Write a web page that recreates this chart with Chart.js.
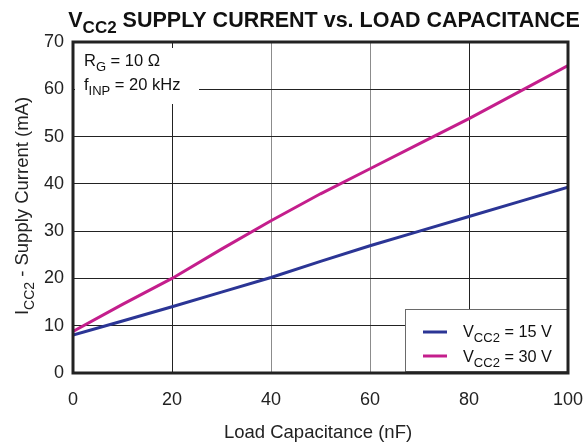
<!DOCTYPE html>
<html>
<head>
<meta charset="utf-8">
<script src="https://cdn.jsdelivr.net/npm/chart.js@4.4.1/dist/chart.umd.min.js"></script>
<style>
  html, body { margin: 0; padding: 0; background: #fff; }
  #wrap { width: 585px; height: 442px; }
</style>
</head>
<body>
<div id="wrap"><canvas id="icc"></canvas></div>
<script>
// load capacitance (nF) and supply current (mA)
const capacitance = [0, 10, 20, 30, 40, 50, 60, 70, 80, 90, 100];
const icc15V = [8.0, 11.0, 14.0, 17.1, 20.2, 23.6, 26.9, 30.0, 33.1, 36.2, 39.3];
const icc30V = [8.8, 14.5, 20.0, 26.2, 32.2, 37.9, 43.2, 48.5, 53.8, 59.4, 65.0];
const seriesNames = [['V', 'CC2', ' = 15 V'], ['V', 'CC2', ' = 30 V']];
const seriesColors = ['#2b3595', '#c41e8c'];

const FONT = 'Liberation Sans, Arial, Helvetica, sans-serif';

// draws text with a subscript part: parts = [normal, sub, normal]
function richText(ctx, parts, x, y, size, bold, align) {
    const w = bold ? 'bold ' : '';
    const big = w + size + 'px ' + FONT;
    const small = w + Math.round(size * 0.78) + 'px ' + FONT;
    const widths = parts.map((p, i) => {
        ctx.font = i % 2 ? small : big;
        return ctx.measureText(p).width;
    });
    const total = widths.reduce((a, b) => a + b, 0);
    let cx = align === 'center' ? x - total / 2 : x;
    ctx.textAlign = 'left';
    ctx.textBaseline = 'alphabetic';
    parts.forEach((p, i) => {
        ctx.font = i % 2 ? small : big;
        ctx.fillText(p, cx, i % 2 ? y + size * 0.3 : y);
        cx += widths[i];
    });
}

const decorations = {
    id: 'decorations',
    beforeDatasetsDraw(chart) {
        const ctx = chart.ctx;
        const a = chart.chartArea;
        ctx.save();
        // conditions box (covers grid)
        ctx.fillStyle = '#fff';
        ctx.fillRect(a.left + 2, 48, 124, 56);
        // legend box
        ctx.fillRect(405, 309, a.right - 405, 62);
        ctx.strokeStyle = '#6a6a6a';
        ctx.lineWidth = 1;
        ctx.strokeRect(405.5, 309.5, a.right - 406, 62);
        ctx.restore();
    },
    afterDraw(chart) {
        const ctx = chart.ctx;
        const a = chart.chartArea;
        ctx.save();
        ctx.fillStyle = '#111';
        // title
        richText(ctx, ['V', 'CC2', ' SUPPLY CURRENT vs. LOAD CAPACITANCE'], 324, 27, 21.5, true, 'center');
        // conditions
        richText(ctx, ['R', 'G', ' = 10 \u03a9'], 84, 66, 16.5, false, 'left');
        richText(ctx, ['f', 'INP', ' = 20 kHz'], 84, 90, 16.5, false, 'left');
        // legend
        const legY = [332, 356];
        seriesNames.forEach((name, i) => {
            const y = legY[i];
            ctx.strokeStyle = seriesColors[i];
            ctx.lineWidth = 3;
            ctx.beginPath();
            ctx.moveTo(423, y);
            ctx.lineTo(447, y);
            ctx.stroke();
            richText(ctx, name, 463, y + 5 + i, 16.3, false, 'left');
        });
        // axis titles
        ctx.fillStyle = '#222';
        ctx.font = '18.5px ' + FONT;
        ctx.textAlign = 'center';
        ctx.fillText('Load Capacitance (nF)', 318, 438);
        ctx.translate(28, 206);
        ctx.rotate(-Math.PI / 2);
        ctx.fillStyle = '#222';
        richText(ctx, ['I', 'CC2', ' - Supply Current (mA)'], 0, 0, 18.5, false, 'center');
        ctx.restore();
        // frame
        ctx.save();
        ctx.strokeStyle = '#222';
        ctx.lineWidth = 3;
        ctx.strokeRect(a.left, a.top, a.right - a.left, a.bottom - a.top);
        ctx.restore();
    }
};

new Chart(document.getElementById('icc'), {
    type: 'line',
    data: {
        labels: capacitance,
        datasets: [{
            label: 'VCC2 = 15 V',
            data: capacitance.map((c, i) => ({ x: c, y: icc15V[i] })),
            borderColor: seriesColors[0],
            borderWidth: 3,
            pointRadius: 0,
            tension: 0
        }, {
            label: 'VCC2 = 30 V',
            data: capacitance.map((c, i) => ({ x: c, y: icc30V[i] })),
            borderColor: seriesColors[1],
            borderWidth: 3,
            pointRadius: 0,
            tension: 0
        }]
    },
    options: {
        responsive: true,
        maintainAspectRatio: false,
        animation: false,
        layout: { padding: { top: 42, right: 17, left: 0, bottom: 0 } },
        plugins: {
            legend: { display: false },
            tooltip: { enabled: false }
        },
        scales: {
            x: {
                type: 'linear',
                min: 0,
                max: 100,
                afterFit: (s) => { s.height = 69; s.paddingRight = 0; s.paddingLeft = 0; },
                ticks: { stepSize: 20, color: '#222', padding: 16, font: { family: FONT, size: 18 } },
                grid: {
                    drawTicks: false,
                    color: (c) => (c.tick && (c.tick.value === 40 || c.tick.value === 60)) ? '#8c8c8c' : '#222',
                    lineWidth: 1
                },
                border: { display: false }
            },
            y: {
                min: 0,
                max: 70,
                afterFit: (s) => { s.width = 73; },
                ticks: { stepSize: 10, color: '#222', padding: 9, font: { family: FONT, size: 18 } },
                grid: { drawTicks: false, color: '#222', lineWidth: 1 },
                border: { display: false }
            }
        }
    },
    plugins: [decorations]
});
</script>
</body>
</html>
